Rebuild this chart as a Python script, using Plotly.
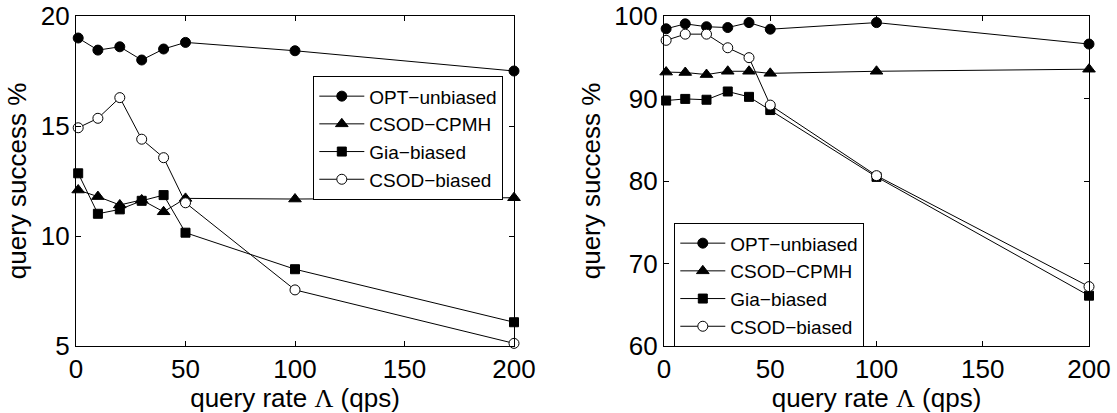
import plotly.graph_objects as go

# query rates (qps)
rates = [1, 10, 20, 30, 40, 50, 100, 200]

# left panel: query success % (low-success workload)
left_opt_unbiased = [19.0, 18.45, 18.6, 18.0, 18.5, 18.8, 18.42, 17.5]
left_csod_cpmh = [12.09, 11.79, 11.41, 11.64, 11.1, 11.71, 11.68, 11.74]
left_gia_biased = [12.85, 11.01, 11.21, 11.6, 11.86, 10.15, 8.49, 6.08]
left_csod_biased = [14.92, 15.35, 16.29, 14.4, 13.56, 11.51, 7.55, 5.12]

# right panel: query success % (high-success workload)
right_opt_unbiased = [98.45, 99.05, 98.7, 98.6, 99.2, 98.4, 99.2, 96.6]
right_csod_cpmh = [93.2, 93.15, 92.9, 93.3, 93.3, 93.05, 93.3, 93.55]
right_gia_biased = [89.75, 89.95, 89.85, 90.85, 90.2, 88.6, 80.5, 66.1]
right_csod_biased = [97.05, 97.8, 97.8, 96.15, 94.95, 89.2, 80.65, 67.2]

series_names = ["OPT\u2212unbiased", "CSOD\u2212CPMH", "Gia\u2212biased", "CSOD\u2212biased"]
markers = [
    dict(symbol="circle", size=10, color="black", line=dict(color="black", width=1)),
    dict(symbol="triangle-up", size=11, color="black", line=dict(color="black", width=1)),
    dict(symbol="square", size=9, color="black", line=dict(color="black", width=1)),
    dict(symbol="circle", size=10, color="white", line=dict(color="black", width=1)),
]

FONT = "Liberation Sans, Arial, sans-serif"

fig = go.Figure()

panels = [
    ("x", "y", "legend", [left_opt_unbiased, left_csod_cpmh, left_gia_biased, left_csod_biased]),
    ("x2", "y2", "legend2", [right_opt_unbiased, right_csod_cpmh, right_gia_biased, right_csod_biased]),
]
for xa, ya, leg, data in panels:
    for name, mk, vals in zip(series_names, markers, data):
        fig.add_trace(go.Scatter(
            x=rates, y=vals, name=name, mode="lines+markers",
            line=dict(color="black", width=1), marker=mk,
            xaxis=xa, yaxis=ya, legend=leg, cliponaxis=False,
        ))

axis_common = dict(
    showline=True, linecolor="black", linewidth=1.3, mirror="ticks",
    ticks="inside", ticklen=5, tickcolor="black", tickwidth=1,
    showgrid=False, zeroline=False, automargin=False,
    tickfont=dict(family=FONT, size=26, color="black"),
)
xtitle = dict(
    text='query rate <span style="font-family:Liberation Serif, Times New Roman, serif">\u039b</span> (qps)',
    font=dict(family=FONT, size=26, color="black"), standoff=2,
)
ytitle = dict(text="query success %", font=dict(family=FONT, size=26, color="black"), standoff=6)

legend_common = dict(
    bgcolor="white", bordercolor="black", borderwidth=1.3,
    font=dict(family=FONT, size=19, color="black"),
    xanchor="left", yanchor="top", tracegroupgap=0, itemwidth=45,
)

fig.update_layout(
    width=1117, height=413,
    margin=dict(l=0, r=0, t=0, b=0),
    paper_bgcolor="white", plot_bgcolor="white",
    showlegend=True,
    xaxis=dict(domain=[76 / 1117, 514 / 1117], range=[0, 200], tickvals=[0, 50, 100, 150, 200],
               anchor="y", title=xtitle, **axis_common),
    yaxis=dict(domain=[1 - 346 / 413, 1 - 16 / 413], range=[5, 20], tickvals=[5, 10, 15, 20],
               anchor="x", title=ytitle, **axis_common),
    xaxis2=dict(domain=[664 / 1117, 1089 / 1117], range=[0, 200], tickvals=[0, 50, 100, 150, 200],
                anchor="y2", title=xtitle, **axis_common),
    yaxis2=dict(domain=[1 - 346 / 413, 1 - 16 / 413], range=[60, 100], tickvals=[60, 70, 80, 90, 100],
                anchor="x2", title=ytitle, **axis_common),
    legend=dict(x=313 / 1117, y=1 - 76 / 413, **legend_common),
    legend2=dict(x=674 / 1117, y=1 - 223 / 413, **legend_common),
)

fig.write_html("out.html")
